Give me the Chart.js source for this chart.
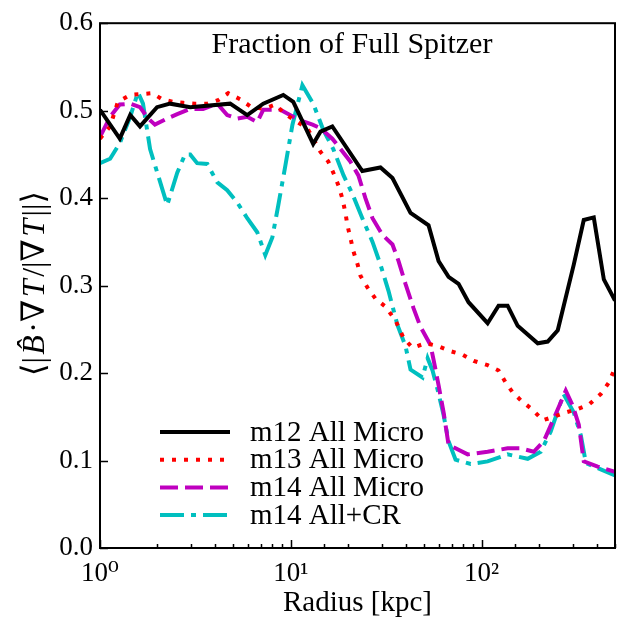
<!DOCTYPE html>
<html>
<head>
<meta charset="utf-8">
<script src="https://cdn.jsdelivr.net/npm/chart.js@4.4.0/dist/chart.umd.min.js"></script>
<style>
  html, body { margin: 0; padding: 0; background: #fff; }
</style>
</head>
<body>
<canvas id="chart" width="628" height="619"></canvas>
<script>
// radius [kpc] and <|B.gradT|/|gradT|> for each run
var m12Radius = [1.0, 1.27, 1.44, 1.62, 1.99, 2.33, 2.97, 4.81, 5.91, 7.17, 9.13, 10.3, 13.1, 14.3, 16.5, 23.7, 29.5, 34.1, 42.4, 52.7, 59.5, 67.1, 75.7, 85.4, 107.5, 122.7, 136.8, 154.5, 196.8, 222, 250.6, 304, 343, 387, 437, 500];
var m12Frac = [0.501, 0.468, 0.495, 0.482, 0.504, 0.508, 0.504, 0.508, 0.495, 0.508, 0.518, 0.510, 0.462, 0.476, 0.482, 0.431, 0.435, 0.423, 0.383, 0.369, 0.328, 0.310, 0.302, 0.281, 0.257, 0.277, 0.277, 0.254, 0.234, 0.236, 0.249, 0.324, 0.375, 0.378, 0.307, 0.283];

var m13Radius = [1.0, 1.13, 1.24, 1.44, 1.66, 1.88, 2.12, 2.42, 2.73, 3.15, 3.65, 4.16, 4.70, 5.43, 6.13, 7.17, 8.29, 9.36, 10.8, 12.2, 14.3, 15.7, 16.7, 17.8, 18.6, 19.3, 19.8, 20.5, 21.3, 22.4, 23.2, 25.2, 27.8, 31.3, 35.4, 39.0, 43.4, 50.8, 58.8, 68.8, 79.5, 90.8, 107.5, 122.7, 133.7, 145.4, 160.2, 185.2, 209.1, 238.8, 276, 319, 365, 421, 464, 500];
var m13Frac = [0.468, 0.482, 0.510, 0.518, 0.519, 0.520, 0.513, 0.510, 0.509, 0.508, 0.508, 0.512, 0.520, 0.513, 0.505, 0.502, 0.507, 0.496, 0.487, 0.480, 0.453, 0.442, 0.429, 0.414, 0.400, 0.384, 0.369, 0.355, 0.339, 0.324, 0.311, 0.298, 0.285, 0.276, 0.260, 0.240, 0.229, 0.234, 0.231, 0.225, 0.221, 0.214, 0.209, 0.203, 0.189, 0.178, 0.169, 0.158, 0.146, 0.150, 0.155, 0.159, 0.164, 0.176, 0.189, 0.206];

var m14Radius = [1.0, 1.13, 1.27, 1.44, 1.62, 1.79, 1.94, 2.25, 2.54, 2.97, 3.47, 4.12, 4.64, 5.24, 5.91, 6.67, 7.17, 8.81, 10.3, 11.2, 13.0, 14.3, 16.5, 20.5, 22.6, 24.6, 26.8, 30.2, 34.1, 36.7, 39.9, 44.0, 47.8, 54.0, 56.0, 59.5, 63.2, 67.1, 84.5, 107.5, 136.8, 160.2, 187.5, 211.6, 238.8, 276, 300, 323, 343, 406, 500];
var m14Frac = [0.470, 0.493, 0.507, 0.508, 0.504, 0.491, 0.484, 0.491, 0.496, 0.502, 0.502, 0.508, 0.495, 0.491, 0.493, 0.487, 0.501, 0.501, 0.493, 0.489, 0.484, 0.480, 0.468, 0.442, 0.426, 0.400, 0.377, 0.358, 0.347, 0.328, 0.302, 0.274, 0.253, 0.232, 0.215, 0.186, 0.155, 0.118, 0.107, 0.110, 0.114, 0.114, 0.110, 0.122, 0.148, 0.180, 0.163, 0.141, 0.099, 0.093, 0.087];

var crRadius = [1.0, 1.13, 1.27, 1.44, 1.58, 1.68, 1.83, 2.25, 2.54, 2.79, 2.97, 3.23, 3.65, 4.12, 4.64, 5.24, 5.91, 6.67, 7.35, 8.0, 8.6, 9.36, 10.2, 11.5, 13.1, 14.8, 16.7, 18.9, 21.0, 23.7, 26.8, 29.5, 32.5, 36.2, 39.9, 42.4, 49.0, 52.1, 55.3, 58.8, 63.2, 67.1, 73.0, 87.6, 107.5, 136.8, 174.4, 204, 230, 269, 304, 331, 352, 421, 500];
var crFrac = [0.440, 0.445, 0.463, 0.493, 0.521, 0.508, 0.456, 0.392, 0.429, 0.450, 0.450, 0.440, 0.439, 0.418, 0.409, 0.395, 0.377, 0.361, 0.335, 0.355, 0.392, 0.437, 0.484, 0.529, 0.508, 0.478, 0.456, 0.426, 0.405, 0.377, 0.350, 0.324, 0.294, 0.255, 0.231, 0.204, 0.195, 0.217, 0.203, 0.181, 0.152, 0.122, 0.101, 0.096, 0.099, 0.107, 0.102, 0.110, 0.133, 0.176, 0.155, 0.129, 0.097, 0.090, 0.083];

var seriesNames = ['m12 All Micro', 'm13 All Micro', 'm14 All Micro', 'm14 All+CR'];
var xMin = 1, xMax = 500;
var yMin = 0, yMax = 0.6, yStep = 0.1;

var SERIF = "'Liberation Serif', 'DejaVu Serif', serif";

function pairs(xs, ys) {
    return xs.map(function(x, i) { return {x: x, y: ys[i]}; });
}

function isDecade(v) {
    var l = Math.log10(v);
    return Math.abs(l - Math.round(l)) < 1e-6;
}

var SUP = {'0': '\u2070', '1': '\u00b9', '2': '\u00b2', '3': '\u00b3'};

// box round the plot and ticks pointing inward, matplotlib style
var frameTicks = {
    id: 'frameTicks',
    afterDatasetsDraw: function(chart) {
        var ctx = chart.ctx, a = chart.chartArea;
        var xs = chart.scales.x, ys = chart.scales.y;
        ctx.save();
        ctx.strokeStyle = '#000';
        ctx.lineWidth = 1.5;
        ctx.beginPath();
        xs.ticks.forEach(function(t) {
            var px = Math.round(xs.getPixelForValue(t.value)) + 0.5;
            var len = isDecade(t.value) ? 8 : 4;
            ctx.moveTo(px, a.bottom);
            ctx.lineTo(px, a.bottom - len);
        });
        ys.ticks.forEach(function(t) {
            var py = Math.round(ys.getPixelForValue(t.value)) + 0.5;
            ctx.moveTo(a.left, py);
            ctx.lineTo(a.left + 8, py);
        });
        ctx.stroke();
        ctx.lineWidth = 2;
        ctx.strokeRect(a.left, a.top, a.right - a.left, a.bottom - a.top);
        ctx.restore();
    }
};

// y label with italic B and T, title text and legend inside the axes
var annotations = {
    id: 'annotations',
    afterDraw: function(chart) {
        var ctx = chart.ctx, a = chart.chartArea;
        ctx.save();
        ctx.fillStyle = '#000';

        // y axis label
        var parts = [['\u27e8|', ''], ['B\u0302', 'italic '], ['\u00b7\u2207', ''], ['T', 'italic '], ['/|\u2207', ''], ['T', 'italic '], ['||\u27e9', '']];
        var size = 32, gap = 2.5, total = 0;
        parts.forEach(function(p) {
            ctx.font = p[1] + size + 'px ' + SERIF;
            p.push(ctx.measureText(p[0]).width);
            total += p[2];
        });
        total += gap * (parts.length - 1);
        ctx.translate(36, (a.top + a.bottom) / 2 - 2);
        ctx.rotate(-Math.PI / 2);
        ctx.textBaseline = 'middle';
        ctx.textAlign = 'left';
        var cx = -total / 2;
        parts.forEach(function(p) {
            ctx.font = p[1] + size + 'px ' + SERIF;
            ctx.fillText(p[0], cx, 0);
            cx += p[2] + gap;
        });
        ctx.setTransform(1, 0, 0, 1, 0, 0);

        // text at the top of the axes
        ctx.font = '30px ' + SERIF;
        ctx.textAlign = 'center';
        ctx.textBaseline = 'middle';
        ctx.fillText('Fraction of Full Spitzer', 352, 45);

        // legend
        ctx.textAlign = 'left';
        ctx.font = '29px ' + SERIF;
        chart.data.datasets.forEach(function(ds, i) {
            var y = 432 + i * 27.7;
            ctx.save();
            ctx.strokeStyle = ds.borderColor;
            ctx.lineWidth = ds.borderWidth;
            ctx.setLineDash(ds.borderDash || []);
            ctx.beginPath();
            ctx.moveTo(160, y);
            ctx.lineTo(230, y);
            ctx.stroke();
            ctx.restore();
            ctx.fillText(ds.label, 250, y + 1);
        });
        ctx.restore();
    }
};

var datasets = [
    {label: seriesNames[0], data: pairs(m12Radius, m12Frac), borderColor: '#000000', borderWidth: 4, borderDash: []},
    {label: seriesNames[1], data: pairs(m13Radius, m13Frac), borderColor: '#ff0000', borderWidth: 4, borderDash: [4, 8]},
    {label: seriesNames[2], data: pairs(m14Radius, m14Frac), borderColor: '#bf00bf', borderWidth: 4, borderDash: [18, 7]},
    {label: seriesNames[3], data: pairs(crRadius, crFrac), borderColor: '#00bfbf', borderWidth: 4, borderDash: [24, 7, 5, 7]}
];
datasets.forEach(function(d) {
    d.pointRadius = 0;
    d.fill = false;
    d.tension = 0;
    d.borderCapStyle = 'butt';
    d.borderJoinStyle = 'miter';
});

Chart.defaults.font.family = SERIF;
Chart.defaults.color = '#000';

var chart = new Chart(document.getElementById('chart'), {
    type: 'line',
    data: {datasets: datasets},
    plugins: [frameTicks, annotations],
    options: {
        responsive: false,
        animation: false,
        layout: {padding: {top: 15, right: 13, left: 0, bottom: 0}},
        plugins: {legend: {display: false}, tooltip: {enabled: false}},
        scales: {
            x: {
                type: 'logarithmic',
                min: xMin,
                max: xMax,
                grid: {display: false, drawTicks: false},
                border: {display: false},
                ticks: {
                    autoSkip: false,
                    maxRotation: 0,
                    padding: 10,
                    font: {family: SERIF, size: 27},
                    callback: function(v) {
                        if (!isDecade(v)) return '';
                        return '10' + SUP[String(Math.round(Math.log10(v)))];
                    }
                },
                title: {display: true, text: 'Radius [kpc]', font: {family: SERIF, size: 29}, padding: {top: 0, bottom: -2}},
                afterFit: function(s) { s.height = 71; }
            },
            y: {
                min: yMin,
                max: yMax,
                grid: {display: false, drawTicks: false},
                border: {display: false},
                ticks: {
                    stepSize: yStep,
                    padding: 7,
                    font: {family: SERIF, size: 27},
                    callback: function(v) { return v.toFixed(1); }
                },
                afterFit: function(s) { s.width = 100; }
            }
        }
    }
});
</script>
</body>
</html>
